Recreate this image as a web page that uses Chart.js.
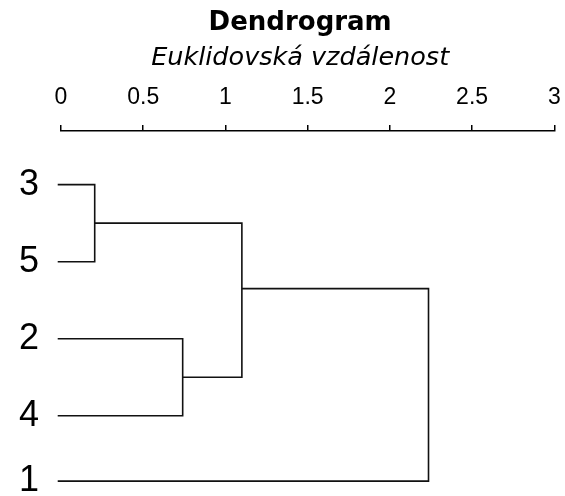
<!DOCTYPE html>
<html><head><meta charset="utf-8">
<script src="https://cdn.jsdelivr.net/npm/chart.js@4/dist/chart.umd.min.js"></script>
<style>html,body{margin:0;padding:0;background:#fff}#wrap{width:565px;height:496px;position:relative}</style>
</head><body><div id="wrap"><canvas id="c"></canvas></div>
<script>
// Leaves (top to bottom) and their positions on the vertical scale
const leafLabels = ['3', '5', '2', '4', '1'];
const leafPos = [1, 2, 3, 4, 4.85];
const leafStart = -0.02;
// Merges: node ids 0-4 are leaves, 5.. are merges in order
const mergeHeights = [0.205, 0.74, 1.10, 2.235];
const mergeChildA = [0, 2, 5, 7];
const mergeChildB = [1, 3, 6, 4];
const mergePos = [1.5, 3.5, 2.35, 3.6];
const xTicks = [0, 0.5, 1, 1.5, 2, 2.5, 3];

const FONT = "'Liberation Sans', Arial, sans-serif";
const TFONT = "'DejaVu Sans', 'Liberation Sans', sans-serif";
function nodeX(i) { return i < leafLabels.length ? leafStart : mergeHeights[i - leafLabels.length]; }
function nodeY(i) { return i < leafLabels.length ? leafPos[i] : mergePos[i - leafLabels.length]; }

const datasets = mergeHeights.map((h, k) => {
  const a = mergeChildA[k], b = mergeChildB[k];
  return {
    data: [
      {x: nodeX(a), y: nodeY(a)},
      {x: h, y: nodeY(a)},
      {x: h, y: nodeY(b)},
      {x: nodeX(b), y: nodeY(b)}
    ],
    borderColor: '#111',
    borderWidth: 1.6,
    pointRadius: 0,
    tension: 0,
    fill: false,
    clip: false
  };
});

new Chart(document.getElementById('c'), {
  type: 'line',
  data: {datasets},
  options: {
    responsive: true,
    maintainAspectRatio: false,
    animation: false,
    layout: {padding: {left: 46, right: 10.7, top: 0, bottom: 0}},
    plugins: {
      legend: {display: false},
      tooltip: {enabled: false},
      title: {display: true, text: 'Dendrogram', color: '#000',
        font: {family: TFONT, size: 26, weight: 'bold'}, padding: {top: 7.7, bottom: 0}},
      subtitle: {display: true, text: 'Euklidovská vzdálenost', color: '#000',
        font: {family: TFONT, size: 25.5, style: 'italic'}, padding: {top: 4.1, bottom: 0}}
    },
    scales: {
      x: {
        type: 'linear', position: 'top', min: 0, max: 3,
        afterBuildTicks: s => { s.ticks = xTicks.map(v => ({value: v})); },
        ticks: {color: '#000', font: {family: FONT, size: 23}, padding: 13.2,
          maxRotation: 0, autoSkip: false, callback: v => String(v)},
        grid: {display: true, drawOnChartArea: false, drawTicks: true, tickLength: 6,
          color: '#000', lineWidth: 1.5},
        border: {display: true, color: '#000', width: 1.5},
        afterFit: s => { s.height = 57.4; s.paddingLeft = 0; s.paddingRight = 0; }
      },
      y: {
        type: 'linear', reverse: true, min: 0.303, max: 5.043,
        afterBuildTicks: s => { s.ticks = leafPos.map(v => ({value: v})); },
        ticks: {color: '#000', font: {family: FONT, size: 36}, padding: -42, mirror: true,
          autoSkip: false, callback: (v, i) => leafLabels[i]},
        grid: {display: false, drawTicks: false},
        border: {display: false},
        afterFit: s => { s.width = 15; s.paddingTop = 0; s.paddingBottom = 0; }
      }
    }
  }
});
</script></body></html>
